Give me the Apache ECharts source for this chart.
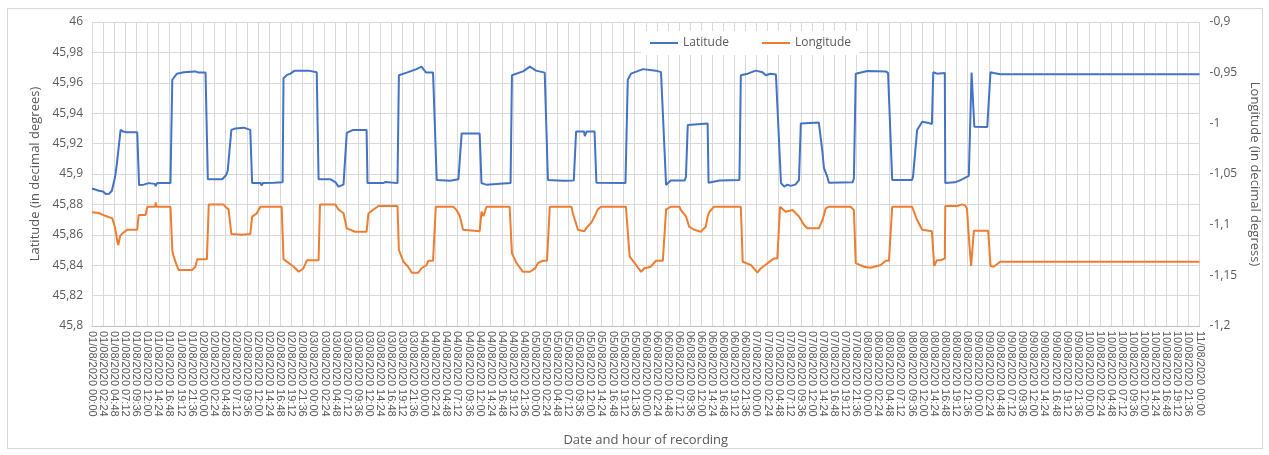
<!DOCTYPE html>
<html>
<head>
<meta charset="utf-8">
<script src="https://cdn.jsdelivr.net/npm/echarts@6/dist/echarts.min.js"></script>
<style>
html,body{margin:0;padding:0;background:#fff;}
#frame{position:absolute;left:7px;top:8px;width:1254px;height:439px;border:1px solid #d9d9d9;}
#chart{position:absolute;left:0;top:0;width:1269px;height:455px;}
</style>
</head>
<body>
<div id="frame"></div>
<div id="chart"></div>
<script>
// x values are hours since 01/08/2020 00:00
const latitude = [
[0,45.8905],[1.5,45.889],[2.4,45.8885],[3.0,45.8868],[3.7,45.887],[4.3,45.889],[5.0,45.898],[5.4,45.907],[6.2,45.929],[6.7,45.928],[7.6,45.9275],[9.8,45.9275],
[10.2,45.8927],[11.2,45.893],[12.3,45.894],[13.6,45.8935],[13.8,45.892],[14.1,45.894],[17.0,45.894],
[17.4,45.962],[17.7,45.963],[18.4,45.966],[19.9,45.967],[22.3,45.9675],[23.1,45.9668],[24.6,45.9668],
[25.1,45.8965],[28.2,45.8965],[29.0,45.899],[29.4,45.902],[30.2,45.929],[31.1,45.930],[32.9,45.9305],[34.3,45.929],
[34.7,45.894],[36.5,45.894],[36.8,45.8925],[37.0,45.894],[39.4,45.8942],[41.3,45.8945],
[41.5,45.963],[42.2,45.965],[43.0,45.966],[43.9,45.968],[46.9,45.968],[48.7,45.967],
[49.1,45.8965],[51.7,45.8965],[52.8,45.8945],[53.4,45.8917],[54.5,45.893],[55.2,45.927],[56.6,45.929],[59.5,45.929],
[59.7,45.894],[63.1,45.894],[63.6,45.8948],[66.2,45.894],
[66.5,45.965],[68.2,45.9667],[70.3,45.969],[71.4,45.9706],[72.4,45.9667],[73.9,45.9667],
[74.7,45.896],[77.6,45.8955],[79.4,45.8965],[80.1,45.9267],[84.0,45.9267],
[84.4,45.894],[85.4,45.893],[90.7,45.894],
[91.0,45.965],[93.4,45.9675],[94.9,45.9706],[96.2,45.968],[98.1,45.9667],
[98.8,45.896],[102.1,45.8955],[104.4,45.8957],[104.9,45.928],[106.6,45.928],[106.8,45.925],[107.2,45.928],[108.9,45.928],
[109.3,45.8943],[115.6,45.894],
[116.1,45.962],[116.8,45.966],[119.4,45.969],[122.2,45.968],[123.3,45.967],
[124.4,45.8928],[125.4,45.8957],[128.4,45.8957],[128.7,45.898],[129.1,45.9322],[133.4,45.9333],
[133.6,45.8943],[136.0,45.8957],[140.3,45.896],
[140.6,45.965],[142.1,45.966],[143.8,45.968],[145.3,45.967],[146.0,45.965],[147.0,45.966],[148.2,45.9655],
[149.3,45.894],[150.0,45.8917],[150.7,45.893],[151.4,45.8922],[152.4,45.893],[153.2,45.896],
[153.6,45.9333],[157.5,45.9338],[158.3,45.914],[158.6,45.904],[159.3,45.8985],[159.7,45.8943],[164.8,45.8945],[165.1,45.897],
[165.5,45.966],[168.0,45.9678],[172.0,45.9675],[172.5,45.9665],
[173.4,45.896],[177.7,45.896],[177.9,45.898],[178.4,45.915],[178.8,45.929],[179.9,45.9344],[181.4,45.9335],[182.0,45.9329],
[182.3,45.967],[183.1,45.966],[184.8,45.9665],
[184.9,45.894],[187.0,45.8945],[188.2,45.896],[190.0,45.8987],[190.6,45.9667],[191.2,45.9311],[194.0,45.931],
[194.7,45.967],[195.4,45.9665],[196.8,45.9656],[230.3,45.9656],[230.5,45.9645],[230.7,45.9656],[240,45.9656]
];
const longitude = [
[0,-1.0878],[1.5,-1.0885],[2.2,-1.090],[3.0,-1.0915],[4.4,-1.0938],[5.0,-1.103],[5.5,-1.1168],[5.7,-1.120],[6.1,-1.111],[6.6,-1.1086],[7.6,-1.105],[9.8,-1.105],
[10.1,-1.0905],[11.6,-1.0905],[12.0,-1.0823],[13.7,-1.0823],[13.8,-1.078],[14.0,-1.0823],[17.0,-1.0823],
[17.4,-1.125],[17.6,-1.130],[18.2,-1.1382],[18.8,-1.1448],[21.7,-1.1448],[22.4,-1.1415],[22.8,-1.1342],[24.9,-1.1342],
[25.3,-1.080],[28.5,-1.080],[28.9,-1.0823],[29.6,-1.0849],[30.2,-1.1093],[32.4,-1.110],[34.3,-1.1093],
[34.7,-1.092],[35.7,-1.0888],[36.5,-1.0823],[41.1,-1.0823],
[41.5,-1.134],[43.7,-1.1415],[44.8,-1.1465],[45.8,-1.1432],[46.6,-1.135],[49.1,-1.135],
[49.4,-1.080],[52.7,-1.080],[53.4,-1.085],[54.5,-1.0888],[55.2,-1.1036],[57.0,-1.107],[59.5,-1.107],
[59.9,-1.089],[61.0,-1.085],[62.1,-1.0816],[66.2,-1.0816],
[66.5,-1.125],[67.5,-1.1366],[68.5,-1.1415],[69.3,-1.1474],[70.7,-1.1474],[71.4,-1.143],[72.5,-1.140],[72.9,-1.1356],[73.9,-1.1356],
[74.5,-1.0823],[78.3,-1.0823],[79.0,-1.0856],[79.7,-1.0915],[80.4,-1.105],[84.0,-1.1066],
[84.4,-1.0872],[84.8,-1.0915],[85.5,-1.0823],[90.5,-1.0823],
[91.0,-1.1283],[92.0,-1.138],[93.4,-1.1465],[94.9,-1.1465],[96.0,-1.1432],[96.6,-1.138],[97.7,-1.1356],[98.6,-1.1356],
[99.2,-1.0823],[103.9,-1.0823],[104.2,-1.0888],[105.3,-1.105],[106.7,-1.1066],[107.1,-1.1033],[108.2,-1.098],[108.9,-1.092],[109.6,-1.0849],[110.3,-1.0823],[115.7,-1.0823],
[116.5,-1.1316],[117.6,-1.138],[119.0,-1.1465],[119.7,-1.143],[121.1,-1.1415],[122.2,-1.1356],[123.7,-1.1356],
[124.4,-1.0849],[125.5,-1.0823],[127.3,-1.0823],[127.6,-1.0856],[128.7,-1.0915],[129.4,-1.102],[130.5,-1.105],[131.9,-1.107],[133.0,-1.102],[133.4,-1.092],[133.8,-1.0872],[134.8,-1.0823],[140.6,-1.0823],
[141.0,-1.1366],[142.8,-1.140],[144.2,-1.1474],[144.9,-1.1432],[146.4,-1.138],[147.8,-1.1333],[148.5,-1.1333],
[149.1,-1.0823],[150.3,-1.0872],[151.8,-1.0856],[153.2,-1.092],[154.3,-1.1003],[155.0,-1.1036],[157.5,-1.1036],
[158.3,-1.0954],[159.0,-1.0839],[159.7,-1.0823],[164.4,-1.0823],[165.1,-1.0856],
[165.5,-1.138],[167.3,-1.1415],[168.7,-1.1425],[170.9,-1.1398],[172.0,-1.1356],[172.7,-1.1356],
[173.4,-1.0823],[177.7,-1.0823],[178.8,-1.0954],[179.9,-1.105],[182.0,-1.1066],[182.3,-1.105],
[182.5,-1.1408],[182.7,-1.1415],[183.1,-1.135],[184.0,-1.135],[184.2,-1.1333],[184.8,-1.1333],
[184.9,-1.0816],[187.5,-1.0816],[188.5,-1.080],[189.2,-1.081],[189.6,-1.084],[190.0,-1.112],[190.5,-1.1408],
[191.1,-1.106],[194.2,-1.106],[194.7,-1.1408],[195.4,-1.1415],[196.8,-1.1366],[240,-1.1366]
];
const seriesNames = ['Latitude', 'Longitude'];
const axisTitles = ['Latitude (in decimal degrees)', 'Longitude (in decimal degress)', 'Date and hour of recording'];

// tick labels: one every 2h24m from 01/08/2020 00:00 to 11/08/2020 00:00
const tickStepHours = 2.4;
const xTickLabels = [];
(function(){
  const pad = n => (n < 10 ? '0' : '') + n;
  for (let i = 0; i <= 100; i++) {
    const tm = i * 144;
    const d = Math.floor(tm / 1440) + 1;
    const h = Math.floor((tm % 1440) / 60);
    const m = tm % 60;
    xTickLabels.push(pad(d) + '/08/2020 ' + pad(h) + ':' + pad(m));
  }
})();

const fmtComma = v => String(Math.round(v * 1000) / 1000).replace('.', ',');
const gray = '#595959';
const grid = '#d9d9d9';
const baseFont = 'Open Sans';

const chart = echarts.init(document.getElementById('chart'));
chart.setOption({
  animation: false,
  textStyle: { fontFamily: baseFont },
  grid: { left: 92, right: 64, top: 22, bottom: 129, containLabel: false },
  legend: {
    data: seriesNames,
    left: 641, top: 31,
    backgroundColor: '#ffffff',
    padding: [6, 8, 6, 8],
    itemWidth: 28, itemHeight: 2, itemGap: 32,
    textStyle: { color: gray, fontSize: 12, fontFamily: baseFont }
  },
  xAxis: {
    type: 'value', min: 0, max: 240, interval: tickStepHours,
    name: axisTitles[2], nameLocation: 'middle', nameGap: 108,
    nameTextStyle: { color: gray, fontSize: 13, fontFamily: baseFont },
    axisLine: { show: true, lineStyle: { color: '#bfbfbf' } },
    axisTick: { show: false },
    splitLine: { show: true, lineStyle: { color: grid } },
    axisLabel: {
      rotate: -90, margin: 5, color: gray, fontSize: 11, fontFamily: 'Liberation Sans',
      showMinLabel: true, showMaxLabel: true,
      formatter: v => xTickLabels[Math.round(v / tickStepHours)] || ''
    }
  },
  yAxis: [{
    type: 'value', min: 45.8, max: 46, interval: 0.02,
    name: axisTitles[0], nameLocation: 'middle', nameRotate: 90, nameGap: 50,
    nameTextStyle: { color: gray, fontSize: 13, fontFamily: baseFont },
    axisLine: { show: false }, axisTick: { show: false },
    splitLine: { show: true, lineStyle: { color: grid } },
    axisLabel: { color: gray, fontSize: 12, margin: 9, formatter: fmtComma }
  }, {
    type: 'value', min: -1.2, max: -0.9, interval: 0.05, position: 'right',
    name: axisTitles[1], nameLocation: 'middle', nameRotate: -90, nameGap: 48,
    nameTextStyle: { color: gray, fontSize: 13, fontFamily: baseFont },
    axisLine: { show: false }, axisTick: { show: false },
    splitLine: { show: false },
    axisLabel: { color: gray, fontSize: 12, margin: 10, formatter: fmtComma }
  }],
  series: [{
    name: seriesNames[0], type: 'line', yAxisIndex: 0, data: latitude,
    symbol: 'none', lineStyle: { color: '#4472C4', width: 2 }, itemStyle: { color: '#4472C4' }
  }, {
    name: seriesNames[1], type: 'line', yAxisIndex: 1, data: longitude,
    symbol: 'none', lineStyle: { color: '#ED7D31', width: 2 }, itemStyle: { color: '#ED7D31' }
  }]
});
</script>
</body>
</html>
